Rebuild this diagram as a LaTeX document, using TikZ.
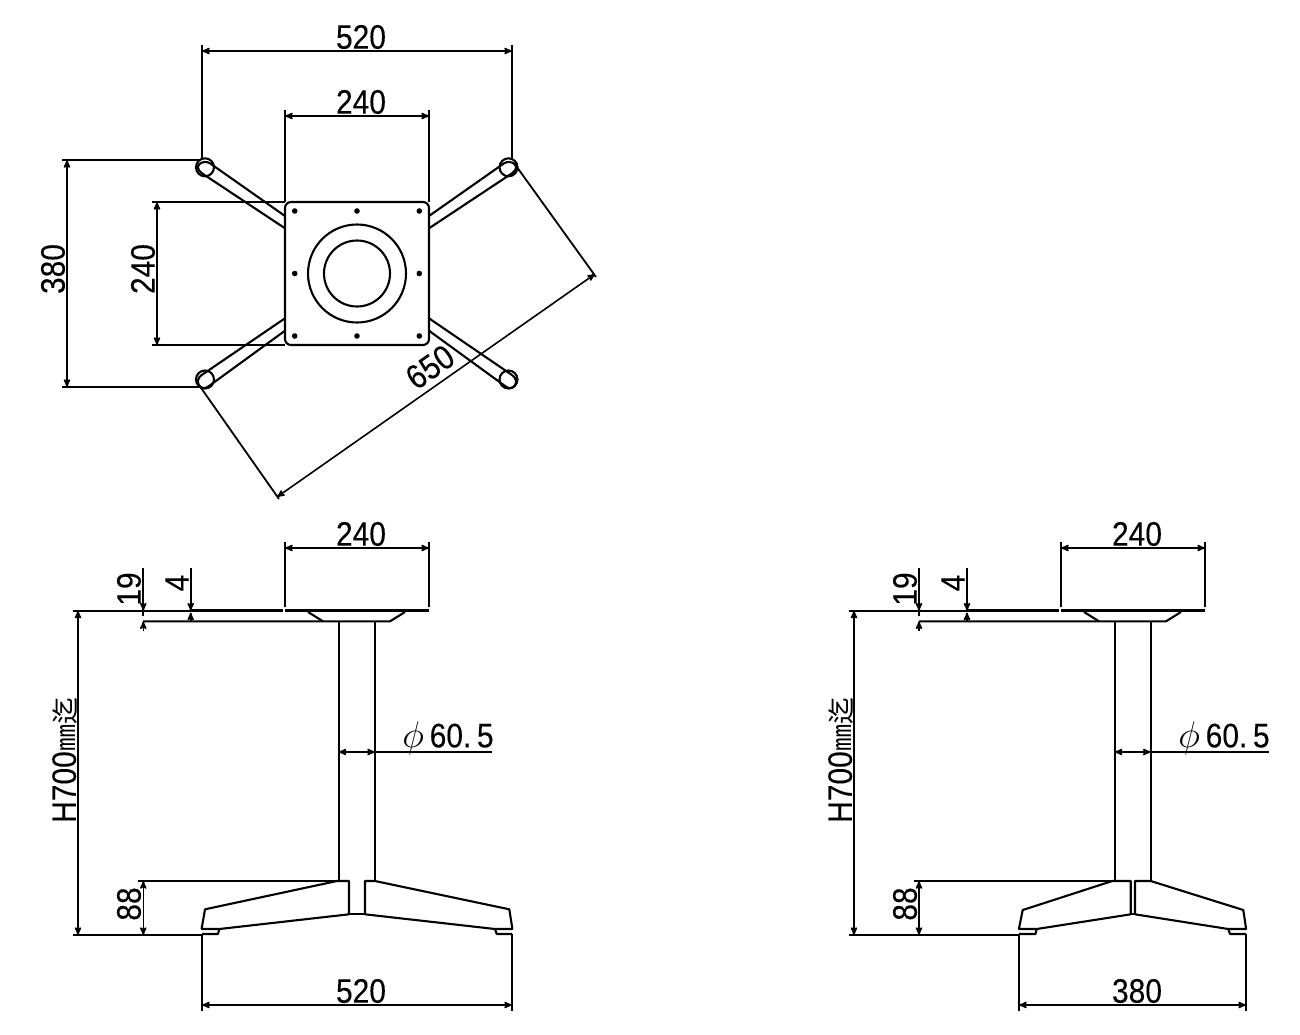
\documentclass[tikz,border=0pt]{standalone}
\usepackage{fontspec}
\usepackage{amsmath}
\setmainfont[FakeStretch=0.88,FakeBold=0.15]{Liberation Sans}
\newfontfamily\cjkfont{Noto Sans CJK JP}
\usetikzlibrary{arrows}
\tikzset{
  part/.style={black,line width=2.1pt,line join=round},
  thinline/.style={black,line width=1.8pt},
  dimline/.style={black,line width=1.6pt,<->,>=stealth'},
  dimhead/.style={black,line width=1.6pt,->,>=stealth'},
  dimtext/.style={inner sep=0pt,font=\fontsize{34}{34}\selectfont},
}
\begin{document}
\begin{tikzpicture}[x=1pt,y=-1pt]
\useasboundingbox (0,0) rectangle (1300,1034);
% top view
\draw [part] (285,208) arc (180:270:6) -- (423,202) arc (270:360:6) -- (429,339) arc (0:90:6) -- (291,345) arc (90:180:6) -- cycle;
\draw [part] (357,273.5) circle (49);
\draw [part] (357,273.5) circle (33);
\foreach \hx/\hy in {294.7/211,357/211,419.3/211,294.7/273.5,419.3/273.5,294.7/336,357/336,419.3/336}
  \fill [black] (\hx,\hy) circle (2.8);
\draw [part] (205,167.3) circle (9);
\draw [part] (508.5,167.3) circle (9);
\draw [part] (205,379.5) circle (9);
\draw [part] (508.5,379.5) circle (9);
\draw [part] (285,216) -- (210,163.3) .. controls (203,159) and (192,166) .. (202,173.3) -- (285,228.3);
\draw [part] (429,216) -- (504,163.3) .. controls (511,159) and (522,166) .. (512,173.3) -- (429,228.3);
\draw [part] (285,318.3) -- (201.7,375) .. controls (193,381) and (201,393) .. (209,386) -- (285,330.7);
\draw [part] (429,318.3) -- (512,375) .. controls (521,381) and (513,393) .. (505,386) -- (429,330.7);
\draw [thinline] (202,45) -- (202,160);
\draw [thinline] (512,45) -- (512,160);
\draw [dimline] (202,51) -- (512,51);
\node [dimtext] (topwidth) at (361,37) {520};
\draw [thinline] (285,110) -- (285,202);
\draw [thinline] (429,110) -- (429,202);
\draw [dimline] (285,116) -- (429,116);
\node [dimtext] (topplate) at (361,102) {240};
\draw [thinline] (62,160) -- (200,160);
\draw [thinline] (62,387) -- (200,387);
\draw [dimline] (67,160) -- (67,387);
\node [dimtext,rotate=90] (topdepth) at (53,269) {380};
\draw [thinline] (152,202) -- (285,202);
\draw [thinline] (152,345) -- (285,345);
\draw [dimline] (157,202) -- (157,345);
\node [dimtext,rotate=90] (topplateside) at (143,269) {240};
\draw [thinline] (514,163) -- (596,277);
\draw [thinline] (199,385) -- (279,499);
\draw [dimline] (277,497) -- (595,274);
\node [dimtext,rotate=35] (topdiagonal) at (430,367) {650};
% front view
\draw [part,line width=3pt] (190,610.7) -- (283,610.7);
\draw [part,line width=3pt] (285,610.7) -- (429,610.7);
\draw [part] (143,621.3) -- (390,621.3) -- (405,612);
\draw [part] (308,612) -- (323,621.3);
\draw [part] (338.7,621.3) -- (338.7,881);
\draw [part] (375,621.3) -- (375,881);
\draw [part] (201.7,928.3) -- (205,909.3) -- (337,881) -- (349,881) -- (349,914.3) -- (219.3,929) -- (201.7,929) -- cycle;
\draw [part] (365,914.3) -- (365,881) -- (375,881) -- (509.3,909.3) -- (512.3,928.3) -- (512.3,929) -- (495,929) -- cycle;
\draw [part] (349,914.3) -- (365,914.3);
\draw [part] (202,934) -- (218,934) -- (219.3,929);
\draw [part] (495,929) -- (496.7,934) -- (512,934);
\draw [thinline] (285,542) -- (285,607);
\draw [thinline] (429,542) -- (429,607);
\draw [dimline] (285,548) -- (429,548);
\node [dimtext] (frontplate) at (361,534) {240};
\draw [thinline] (73,610.7) -- (190,610.7);
\draw [thinline] (143.3,568) -- (143.3,616);
\draw [thinline] (190.7,568) -- (190.7,603);
\draw [dimhead] (143.3,600) -- (143.3,610.7);
\draw [dimhead] (143.3,631) -- (143.3,621.3);
\draw [dimhead] (190.7,600) -- (190.7,610.7);
\draw [dimhead] (190.7,622) -- (190.7,612.5);
\node [dimtext,rotate=90] (frontnineteen) at (129,589) {19};
\node [dimtext,rotate=90] (frontfour) at (177,583) {4};
\draw [dimline] (78,610.7) -- (78,935);
\draw [thinline] (73,935) -- (202,935);
\node [dimtext,rotate=90] (frontheight) at (65,760) {H700{\cjkfont\fontsize{27}{27}\selectfont ㎜迄}};
\draw [thinline] (138,881) -- (338,881);
\draw [dimline] (143.3,881) -- (143.3,935);
\node [dimtext,rotate=90] (fronteightyeight) at (129,904) {88};
\draw [dimline] (338.7,752) -- (375,752);
\draw [thinline] (375,752) -- (492,752);
\node [dimtext] (frontpipe) at (448,738) {\scalebox{1.5}{$\phi$}\,60.\,5};
\draw [thinline] (202,934) -- (202,1011);
\draw [thinline] (512,934) -- (512,1011);
\draw [dimline] (202,1005) -- (512,1005);
\node [dimtext] (frontwidth) at (361,991) {520};
% side view
\draw [part,line width=3pt] (967,610.7) -- (1059,610.7);
\draw [part,line width=3pt] (1061,610.7) -- (1205,610.7);
\draw [part] (919,621.3) -- (1166,621.3) -- (1181,612);
\draw [part] (1084,612) -- (1099,621.3);
\draw [part] (1114.7,621.3) -- (1114.7,881);
\draw [part] (1150.7,621.3) -- (1150.7,881);
\draw [part] (1019,928.3) -- (1022.7,910) -- (1112.3,881) -- (1130.7,881) -- (1130.7,914.3) -- (1036.7,929) -- (1019,929) -- cycle;
\draw [part] (1135,914.3) -- (1135,881) -- (1150.7,881) -- (1243.3,910) -- (1246,928.3) -- (1246,929) -- (1228.3,929) -- cycle;
\draw [part] (1130.7,914.3) -- (1135,914.3);
\draw [part] (1019,934) -- (1035.5,934) -- (1036.7,929);
\draw [part] (1228.3,929) -- (1230,934) -- (1246,934);
\draw [thinline] (1061,542) -- (1061,607);
\draw [thinline] (1205,542) -- (1205,607);
\draw [dimline] (1061,548) -- (1205,548);
\node [dimtext] (sideplate) at (1137,534) {240};
\draw [thinline] (849,610.7) -- (967,610.7);
\draw [thinline] (919,568) -- (919,616);
\draw [thinline] (967,568) -- (967,603);
\draw [dimhead] (919,600) -- (919,610.7);
\draw [dimhead] (919,631) -- (919,621.3);
\draw [dimhead] (967,600) -- (967,610.7);
\draw [dimhead] (967,622) -- (967,612.5);
\node [dimtext,rotate=90] (sidenineteen) at (905,589) {19};
\node [dimtext,rotate=90] (sidefour) at (953,583) {4};
\draw [dimline] (854,610.7) -- (854,935);
\draw [thinline] (849,935) -- (1019,935);
\node [dimtext,rotate=90] (sideheight) at (841,760) {H700{\cjkfont\fontsize{27}{27}\selectfont ㎜迄}};
\draw [thinline] (914,881) -- (1114,881);
\draw [dimline] (919,881) -- (919,935);
\node [dimtext,rotate=90] (sideeightyeight) at (905,904) {88};
\draw [dimline] (1114.7,752) -- (1150.7,752);
\draw [thinline] (1150.7,752) -- (1269,752);
\node [dimtext] (sidepipe) at (1224,738) {\scalebox{1.5}{$\phi$}\,60.\,5};
\draw [thinline] (1019,934) -- (1019,1011);
\draw [thinline] (1246,934) -- (1246,1011);
\draw [dimline] (1019,1005) -- (1246,1005);
\node [dimtext] (sidedepth) at (1137,991) {380};
\end{tikzpicture}
\end{document}
